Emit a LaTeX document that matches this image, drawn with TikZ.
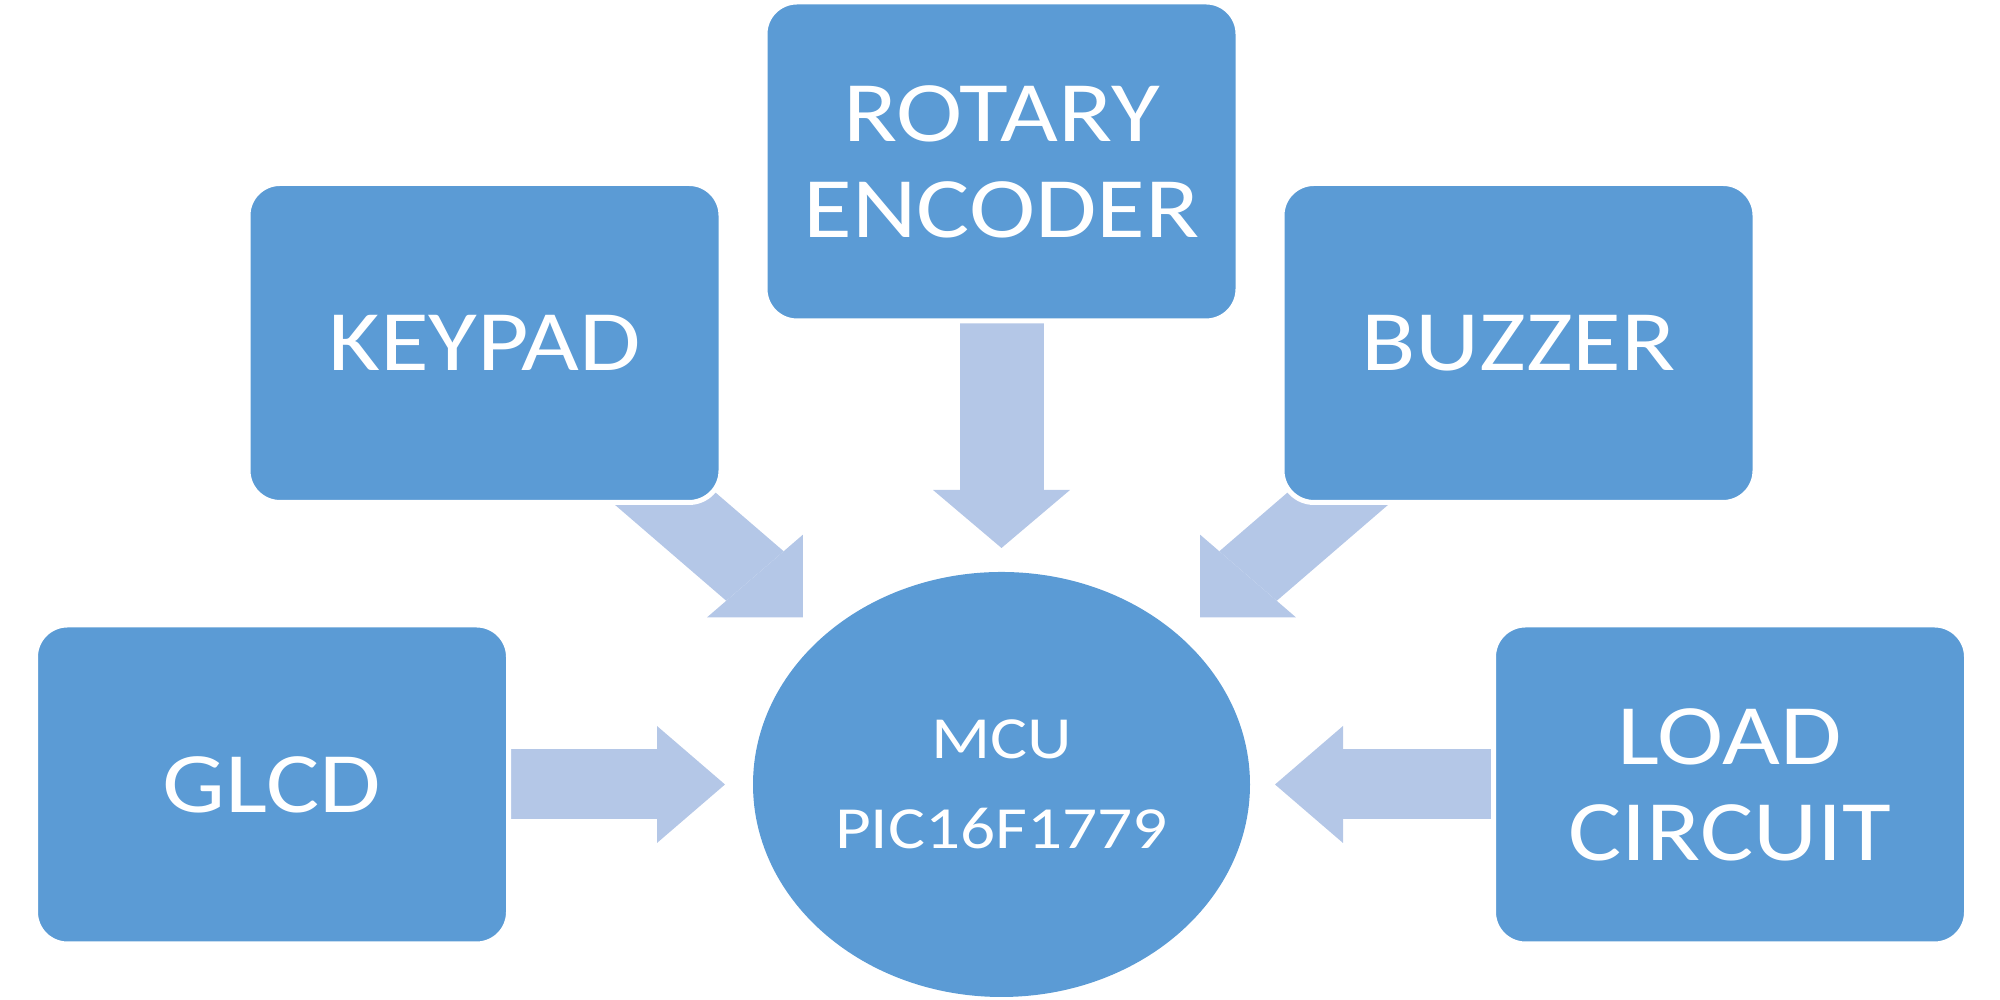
\documentclass[tikz,border=0pt]{standalone}
\usepackage{fontspec}
\usepackage{graphicx}
\setmainfont{Carlito}[FakeStretch=1.16]
\newfontfamily\coreFont{Carlito}[Numbers=Lining]
\newcommand{\wide}[1]{\scalebox{1.16}[1]{#1}}
\usepackage{xcolor}
\usetikzlibrary{positioning,shapes.geometric,arrows.meta,backgrounds}
\definecolor{boxBlue}{HTML}{5B9BD5}
\definecolor{flowBlue}{HTML}{B4C7E7}

\begin{document}
\begin{tikzpicture}[
    block/.style={%
      rectangle,
      rounded corners=3.2mm,
      fill=boxBlue,
      draw=white,
      line width=0.5mm,
      text=white,
      align=center,
      minimum width=47.3mm,
      minimum height=31.9mm,
      font=\fontsize{24.5}{27.3}\selectfont,
    },
    core/.style={%
      ellipse,
      fill=boxBlue,
      text=white,
      align=center,
      inner sep=0pt,
      outer sep=0pt,
      minimum width=49.7mm,
      minimum height=42.5mm,
      font=\coreFont\fontsize{17}{25.6}\selectfont,
    },
    flow/.style args={#1/#2/#3}{%
      draw=flowBlue,
      line width=#1,
      -{Triangle[width=#2,length=#3,line width=0pt]},
    },
  ]

    \useasboundingbox (0,0) rectangle (20,10);

    \node [core] (M) at (10.015,2.155) {\wide{MCU}\\\wide{PIC16F1779}};
    \path (M) ++(-5.17,4.415) node [block] (K) {KEYPAD};
    \path (M) ++(0,6.23) node [block] (R) {ROTARY\\ENCODER};
    \path (M) ++(5.17,4.415) node [block] (B) {BUZZER};
    \path (M) ++(-7.295,0) node [block] (G) {GLCD};
    \path (M) ++(7.285,0) node [block] (L) {LOAD\\CIRCUIT};

    \begin{scope}[on background layer]
      \draw [flow=7mm/11.7mm/6.8mm, shorten >=2.8mm] (G) -- (M);
      \draw [flow=7mm/11.7mm/6.8mm, shorten >=2.5mm] (L) -- (M);
      \draw [flow=8.4mm/13.7mm/5.8mm, shorten >=2.4mm] (R) -- (M);
      % diagonal arrows at 45 degrees, then widened like the rest
      \begin{scope}[transform canvas={xscale=1.16}]
        \coordinate (kFrom) at (4.177,6.57);
        \coordinate (kTip) at (6.922,3.826);
        \coordinate (bFrom) at (13.091,6.57);
        \coordinate (bTip) at (10.345,3.826);
        \draw [flow=7mm/11.7mm/5.85mm] (kFrom) -- (kTip);
        \draw [flow=7mm/11.7mm/5.85mm] (bFrom) -- (bTip);
      \end{scope}
    \end{scope}
\end{tikzpicture}
\end{document}
